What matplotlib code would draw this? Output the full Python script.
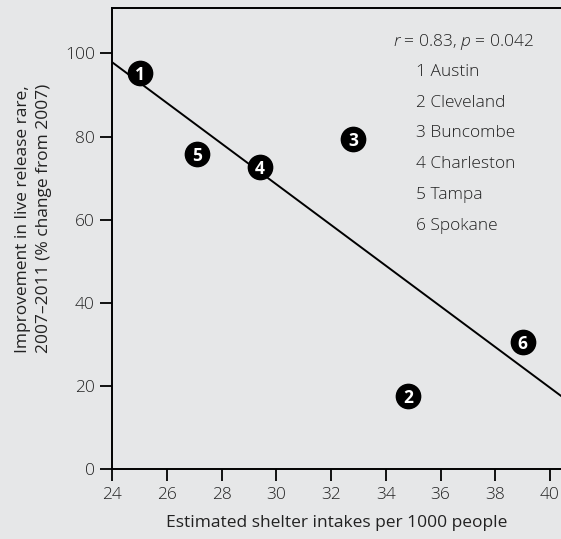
import numpy as np
import matplotlib
matplotlib.use("Agg")
import matplotlib.pyplot as plt

# Shelter intake vs. improvement in live release rate, six communities
labels = ["1", "2", "3", "4", "5", "6"]
cities = ["Austin", "Cleveland", "Buncombe", "Charleston", "Tampa", "Spokane"]
intakes = [25.0, 34.8, 32.8, 29.4, 27.1, 39.0]
improvement = [95.2, 17.6, 79.4, 72.8, 75.8, 30.6]

x_ticks = [24, 26, 28, 30, 32, 34, 36, 38, 40]
y_ticks = [0, 20, 40, 60, 80, 100]

bg = "#e6e7e8"
ink = "#222222"
plt.rcParams["font.family"] = ["Open Sans", "DejaVu Sans"]
plt.rcParams["font.weight"] = "light"
plt.rcParams["mathtext.fontset"] = "custom"
plt.rcParams["mathtext.it"] = "Open Sans:italic:light"
plt.rcParams["mathtext.rm"] = "Open Sans:light"

fig = plt.figure(figsize=(5.61, 5.39), dpi=100, facecolor=bg)
ax = fig.add_axes([0.2002, 0.1293, 0.7998, 0.8558], facecolor=bg)

x_lo, x_hi = 24, 40.4
ax.set_xlim(x_lo, x_hi)
ax.set_ylim(0, 110.9)

# least-squares trend line
slope, intercept = np.polyfit(intakes, improvement, 1)
xs = np.array([x_lo, x_hi])
ax.plot(xs, slope * xs + intercept, color="black", lw=1.4, zorder=2)

ax.scatter(intakes, improvement, s=17.5**2, color="black", zorder=3)
for lab, xv, yv in zip(labels, intakes, improvement):
    ax.text(xv, yv, lab, color="white", fontsize=12.5, fontweight="bold",
            ha="center", va="center_baseline", zorder=4)

ax.set_xticks(x_ticks)
ax.set_yticks(y_ticks)
ax.tick_params(direction="out", length=8.6, width=1.3, colors="black",
               labelcolor=ink, labelsize=12.5)
ax.tick_params(axis="x", pad=4)
ax.tick_params(axis="y", pad=4)

for side in ("left", "bottom", "top"):
    ax.spines[side].set_linewidth(1.4)
    ax.spines[side].set_color("black")
ax.spines["right"].set_visible(False)

ax.set_xlabel("Estimated shelter intakes per 1000 people", fontsize=12.5,
              color=ink, labelpad=9)
ax.set_ylabel("Improvement in live release rare,\n2007\u20132011 (% change from 2007)",
              fontsize=12.5, color=ink, labelpad=9, linespacing=1.45)
ax.yaxis.label.set_y(0.543)

# correlation note and key
fig.text(393 / 561, 1 - 42 / 539, r"$r$ = 0.83, $p$ = 0.042", fontsize=12.5,
         color=ink, va="center", ha="left")
row_y0 = 72
row_step = 30.7
for i, (lab, city) in enumerate(zip(labels, cities)):
    fig.text(416 / 561, 1 - (row_y0 + i * row_step) / 539, f"{lab} {city}",
             fontsize=12.5, color=ink, va="center", ha="left")

fig.savefig("out.png", dpi=100, facecolor=bg)
